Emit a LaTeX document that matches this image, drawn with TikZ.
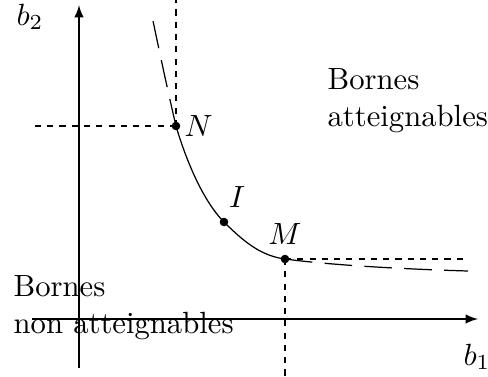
\documentclass[tikz,border=0pt]{standalone}
\begin{document}
\begin{tikzpicture}[x=0.01146cm, y=-0.01146cm,
    guide/.style={dash pattern=on 2pt off 2pt},
    longdash/.style={dash pattern=on 9pt off 4pt},
    pt/.style={circle, fill, inner sep=0pt, minimum size=2.8pt}]
      \useasboundingbox (0,0) rectangle (488,376);
      % Draw the axes
      \draw[-latex] (32,319) -- (478,319);
      \draw[-latex] (79,368) -- (79,5);
      \node (b1) at (477,357) {$b_1$};
      \node (b2) at (30,17) {$b_2$};
      % Place the points
      \node[pt] (N) at (176,126) {};
      \node[pt] (I) at (224,222) {};
      \node[pt] (M) at (285,259) {};
      \node[anchor=west, inner sep=1pt] at (N.east) {$N$};
      \node at (237,197) {$I$};
      \node at (285,234) {$M$};
      \coordinate (Ntop) at (176,0);
      \coordinate (Nleft) at (31,126);
      \coordinate (Mbot) at (285,376);
      \coordinate (Mright) at (468,259);
      % Draw the guide lines
      \draw[guide] (N.center) -- (Ntop);
      \draw[guide] (N.center) -- (Nleft);
      \draw[guide] (M.center) -- (Mbot);
      \draw[guide] (M.center) -- (Mright);
      % Draw the curve
      \coordinate (Cup) at (152,16);
      \coordinate (Cend) at (468,271);
      \draw (N.center) .. controls (186,160) and (203,201) .. (I.center)
            .. controls (245,243) and (262,256) .. (M.center);
      \draw[longdash] (M.center) .. controls (330,265) and (400,269) .. (Cend);
      \draw[longdash] (N.center) .. controls (168,92) and (158,45) .. (Cup);
      % Place the texts
      \node[align=left, anchor=base west, inner sep=0pt] (reach) at (327,126)
        {Bornes\\atteignables};
      \node[align=left, anchor=base west, inner sep=0pt] (noreach) at (13,333)
        {Bornes\\non atteignables};
    \end{tikzpicture}
\end{document}
